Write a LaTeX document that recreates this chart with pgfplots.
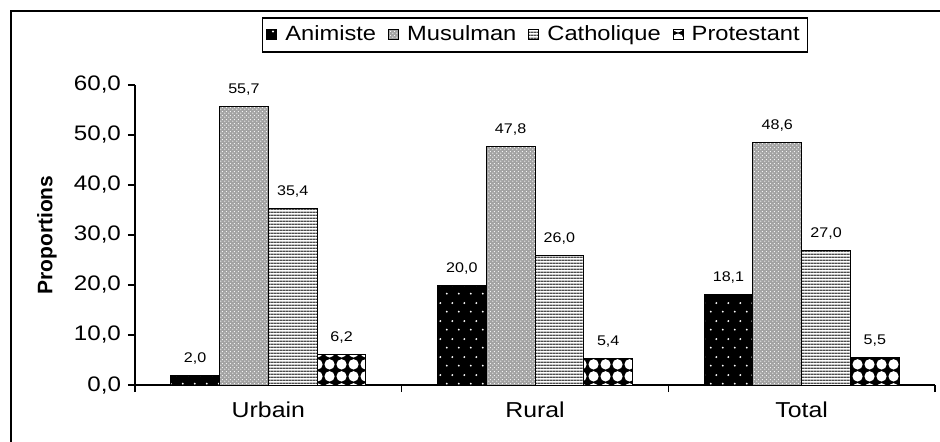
\documentclass[border=0pt]{standalone}
\usepackage{fontspec}
\setmainfont{Liberation Sans}[FakeStretch=1.15]
\newfontfamily\labfont{Liberation Sans}
\usepackage{pgfplots}
\pgfplotsset{compat=1.18}
\usetikzlibrary{patterns}

\pgfdeclarepatternformonly{anidots}{\pgfpoint{0pt}{0pt}}{\pgfpoint{6pt}{9pt}}{\pgfpoint{6pt}{9pt}}
  {\pgfpathcircle{\pgfpoint{1.5pt}{2.25pt}}{0.55pt}\pgfpathcircle{\pgfpoint{4.5pt}{6.75pt}}{0.55pt}\pgfusepath{fill}}
\pgfdeclarepatternformonly{musdots}{\pgfpoint{0pt}{0pt}}{\pgfpoint{2pt}{2pt}}{\pgfpoint{2pt}{2pt}}
  {\pgfpathcircle{\pgfpoint{0.5pt}{0.5pt}}{0.36pt}\pgfpathcircle{\pgfpoint{1.5pt}{1.5pt}}{0.36pt}\pgfusepath{fill}}
\pgfdeclarepatternformonly{cathlines}{\pgfpoint{0pt}{0pt}}{\pgfpoint{1.6pt}{1.6pt}}{\pgfpoint{1.6pt}{1.6pt}}
  {\pgfpathrectangle{\pgfpointorigin}{\pgfpoint{1.6pt}{0.85pt}}\pgfusepath{fill}}
\pgfdeclarepatternformonly{protcircles}{\pgfpoint{0pt}{0pt}}{\pgfpoint{6pt}{6pt}}{\pgfpoint{6pt}{6pt}}
  {\pgfpathcircle{\pgfpoint{3pt}{3pt}}{2.75pt}\pgfusepath{fill}}

\begin{document}
\begin{tikzpicture}
\useasboundingbox (0,0) rectangle (470pt,220.5pt);
\draw[line width=1pt] (5.5pt,-10pt) rectangle (480pt,215pt);
\begin{axis}[
  at={(67.5pt,28pt)}, anchor=south west,
  width=400pt, height=150pt, scale only axis,
  ybar=0pt, bar width=24.4pt,
  xmin=-0.5, xmax=2.5, ymin=0, ymax=60,
  clip=false,
  axis x line*=bottom, axis y line*=left,
  axis line style={-, line width=0.6pt},
  xtick={-0.5,0.5,1.5,2.5}, xticklabels={},
  extra x ticks={0,1,2}, extra x tick labels={Urbain,Rural,Total},
  extra x tick style={major tick length=0pt,
    xticklabel style={font=\fontsize{10.8}{12}\selectfont, yshift=-5pt}},
  ytick={0,10,...,60},
  tick align=outside, major tick length=3.5pt,
  tick style={black, line width=0.6pt},
  /pgf/number format/assume math mode=true,
  yticklabel style={font=\fontsize{10.5}{12}\selectfont,
    /pgf/number format/.cd, fixed, fixed zerofill, precision=1, use comma},
  ylabel={Proportions},
  ylabel style={at={(axis description cs:-0.11,0.5)}, anchor=center,
    font=\labfont\bfseries\fontsize{10.5}{12}\selectfont},
  nodes near coords={\pgfmathprintnumber[fixed,fixed zerofill,precision=1,use comma]{\pgfplotspointmeta}},
  every node near coord/.append style={font=\fontsize{7}{8}\selectfont, yshift=2pt, black},
  every axis plot/.append style={legend image code/.code={\draw[#1] (0pt,-2.5pt) rectangle (5pt,2.5pt);}},
  legend style={at={(0.5,1.2267)}, anchor=north, legend columns=4, draw=black,
    line width=0.8pt, font=\fontsize{10.3}{12.5}\selectfont, inner sep=2pt,
    /tikz/every odd column/.append style={column sep=2pt},
    /tikz/every even column/.append style={column sep=4pt}},
]
\addplot[draw=black, line width=0.5pt, preaction={fill=black},
  pattern=anidots, pattern color=white]
  coordinates {(0,2.0) (1,20.0) (2,18.1)};
\addplot[draw=black, line width=0.5pt, preaction={fill=gray!72},
  pattern=musdots, pattern color=white]
  coordinates {(0,55.7) (1,47.8) (2,48.6)};
\addplot[draw=black, line width=0.5pt, preaction={fill=white},
  pattern=cathlines, pattern color=black!70]
  coordinates {(0,35.4) (1,26.0) (2,27.0)};
\addplot[draw=black, line width=0.5pt, preaction={fill=black},
  pattern=protcircles, pattern color=white]
  coordinates {(0,6.2) (1,5.4) (2,5.5)};
\legend{Animiste,Musulman,Catholique,Protestant}
\end{axis}
\end{tikzpicture}
\end{document}
